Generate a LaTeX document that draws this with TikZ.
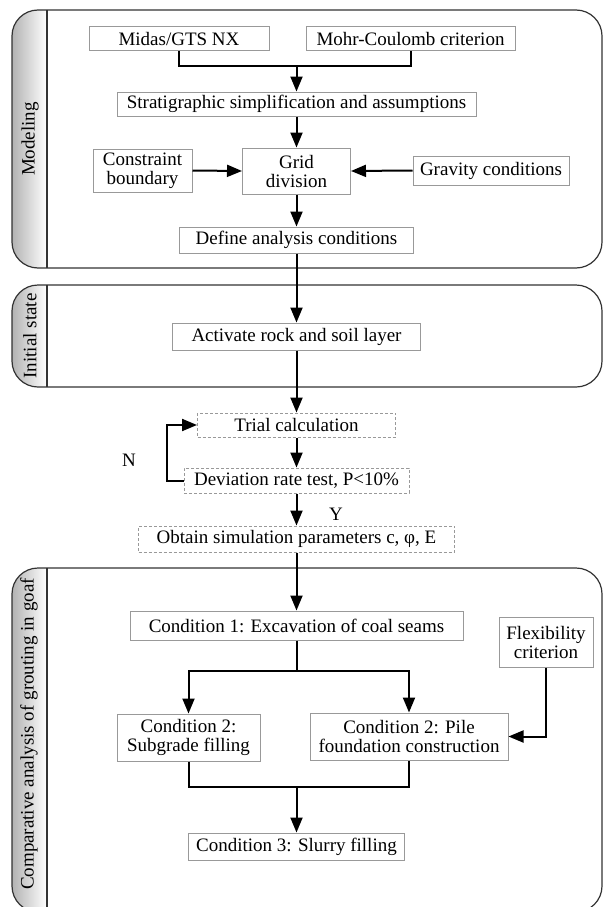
\documentclass[tikz,border=0pt]{standalone}
\usepackage{fontspec}
\setmainfont{Liberation Serif}
\usetikzlibrary{arrows.meta}

\tikzset{
  box/.style={draw=gray!80, line width=1pt, inner sep=0pt, align=center, fill=white},
  tbox/.style={box, dash pattern=on 3pt off 2pt},
  arr/.style={line width=2pt, -{Triangle[length=15pt,width=12pt]}},
  link/.style={line width=2pt},
  lane/.style={line width=1.2pt, draw=black!80, rounded corners=26pt},
  lanelab/.style={rotate=90, inner sep=0pt}
}

\begin{document}
\begin{tikzpicture}[x=1pt, y=-1pt, font=\fontsize{19}{21}\selectfont]
\useasboundingbox (0,0) rectangle (603,907);

% lanes
\foreach \ya/\yb in {10/268, 285/387, 568/912}{
  \begin{scope}
    \clip[rounded corners=26pt] (12,\ya) rectangle (602,\yb);
    \shade[left color=gray!60, right color=white] (12,\ya) rectangle (47,\yb);
  \end{scope}
  \draw[lane] (12,\ya) rectangle (602,\yb);
  \draw[line width=1.2pt, black!80] (47,\ya) -- (47,\yb);
}
\node[lanelab] (lmod) at (30,139) {Modeling};
\node[lanelab] (lini) at (30,336) {Initial state};
\node[lanelab] (lcmp) at (29,734) {Comparative analysis of grouting in goaf};

% modeling
\node[box, minimum width=180, minimum height=24] (midas) at (179,39) {Midas/GTS NX};
\node[box, minimum width=209, minimum height=24] (mohr) at (410.5,39) {Mohr-Coulomb criterion};
\node[box, minimum width=359, minimum height=24] (strat) at (296.5,104) {Stratigraphic simplification and assumptions};
\node[box, minimum width=108, minimum height=46] (grid) at (296.5,171) {Grid\\[-2pt]division};
\node[box, minimum width=99, minimum height=43] (constr) at (142.5,170.5) {Constraint\\[-2pt]boundary};
\node[box, minimum width=156, minimum height=29] (grav) at (491,170.5) {Gravity conditions};
\node[box, minimum width=234, minimum height=26] (define) at (296.5,240) {Define analysis conditions};

\coordinate (j1) at (296.5,66);
\draw[link] (midas.south) |- (j1) -| (mohr.south);
\draw[arr] (j1) -- (strat.north);
\draw[arr] (strat.south) -- (grid.north);
\draw[arr] (constr.east) -- (grid.west);
\draw[arr] (grav.west) -- (grid.east);
\draw[arr] (grid.south) -- (define.north);

% initial state
\node[box, minimum width=248, minimum height=27] (activ) at (296.5,336.5) {Activate rock and soil layer};
\draw[arr] (define.south) -- (activ.north);

% trial
\node[tbox, minimum width=198, minimum height=24] (trial) at (296.5,425) {Trial calculation};
\node[tbox, minimum width=225, minimum height=25] (dev) at (296.5,480.5) {Deviation rate test, P<10\%};
\node[tbox, minimum width=316, minimum height=26] (obtain) at (296.5,539) {Obtain simulation parameters c, φ, E};
\draw[arr] (activ.south) -- (trial.north);
\draw[arr] (trial.south) -- (dev.north);
\draw[arr] (dev.west) -- ++(-17,0) |- (trial.west);
\draw[arr] (dev.south) -- (obtain.north);
\node (nlab) at (129,460) {N};
\node (ylab) at (336,514) {Y};

% comparative analysis
\node[box, minimum width=333, minimum height=29] (cond1) at (296.5,625.5) {Condition 1: Excavation of coal seams};
\node[box, minimum width=94, minimum height=50] (flex) at (546,642) {Flexibility\\[-2pt]criterion};
\node[box, minimum width=143, minimum height=47] (subg) at (188.5,737.5) {Condition 2:\\[-2pt]Subgrade filling};
\node[box, minimum width=198, minimum height=47] (pile) at (409,736.5) {Condition 2: Pile\\[-2pt]foundation construction};
\node[box, minimum width=216, minimum height=27] (slurry) at (296.5,846.5) {Condition 3: Slurry filling};
\draw[arr] (obtain.south) -- (cond1.north);

\coordinate (j2) at (296.5,671);
\draw[link] (cond1.south) -- (j2);
\draw[arr] (j2) -| (subg.north);
\draw[arr] (j2) -| (pile.north);
\draw[arr] (flex.south) |- (pile.east);

\coordinate (j3) at (296.5,787);
\draw[link] (subg.south) |- (j3) -| (pile.south);
\draw[arr] (j3) -- (slurry.north);

\end{tikzpicture}
\end{document}
